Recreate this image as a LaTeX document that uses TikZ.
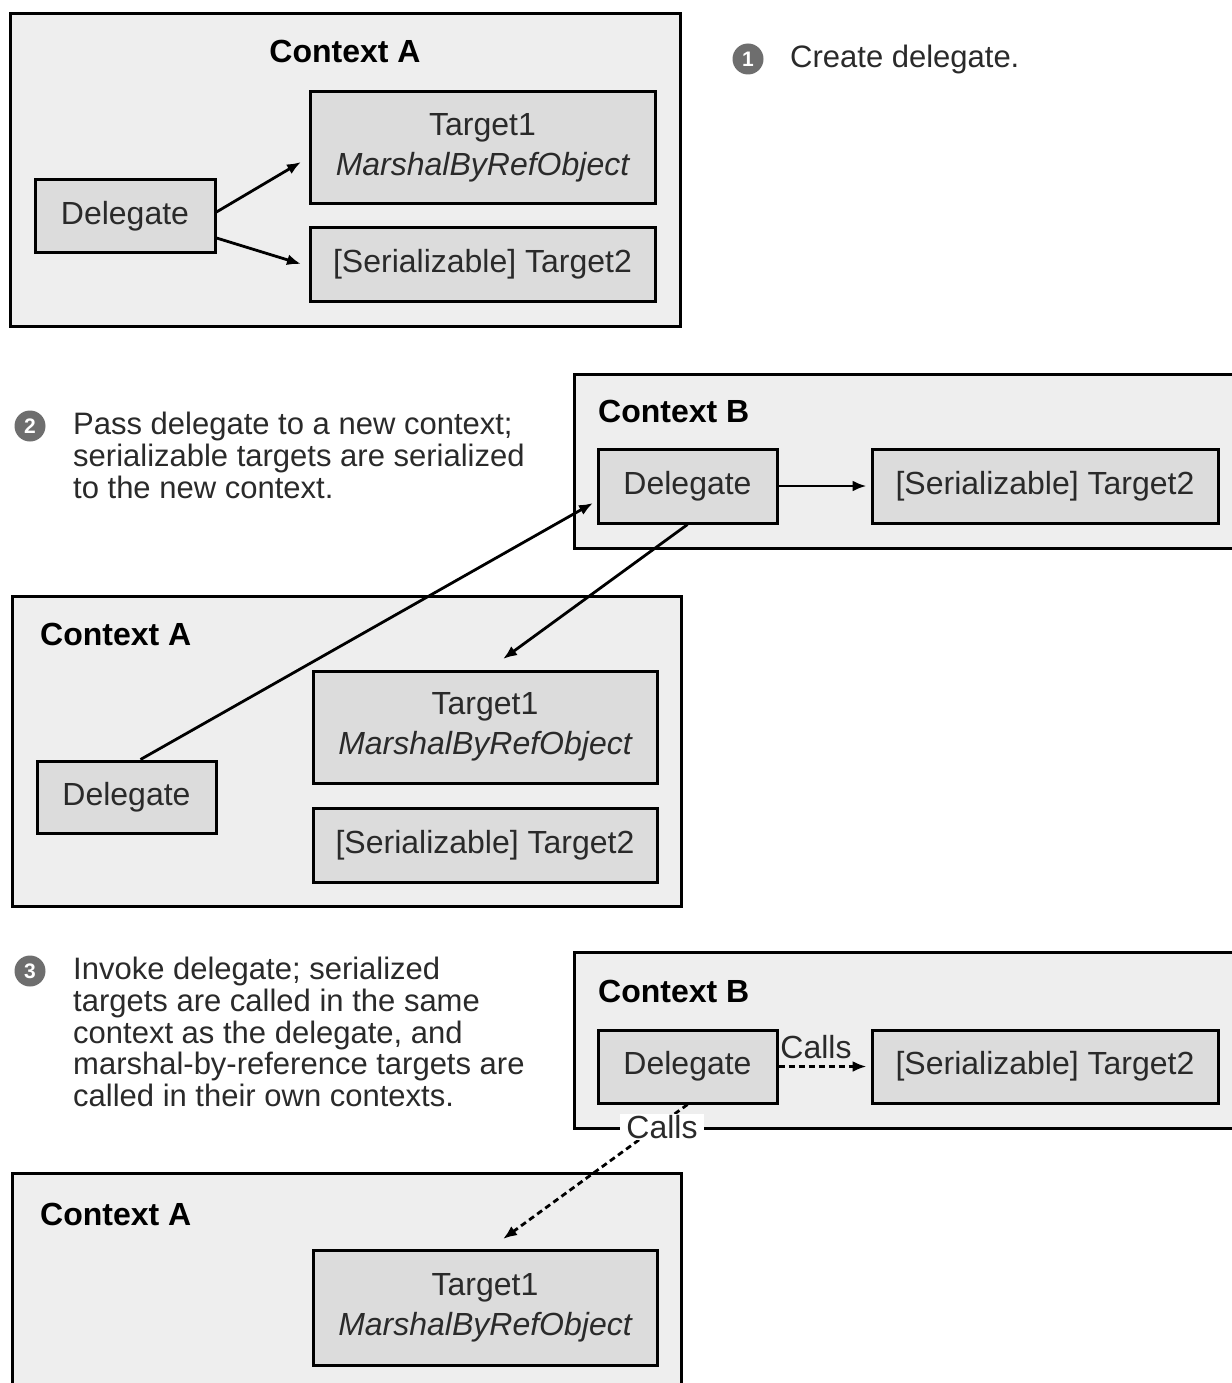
\documentclass[tikz,border=0pt]{standalone}
\usepackage{fontspec}
\setmainfont{Liberation Sans}
\usetikzlibrary{arrows.meta}
\definecolor{ctxfill}{HTML}{EEEEEE}
\definecolor{boxfill}{HTML}{DCDCDC}
\definecolor{txt}{HTML}{2A2A2A}
\definecolor{bulfill}{HTML}{6E6E6E}
\begin{document}
\begin{tikzpicture}[x=1pt,y=-1pt,
  ctx/.style={draw=black, line width=3pt, fill=ctxfill, rectangle, inner sep=0pt},
  obj/.style={draw=black, line width=3pt, fill=boxfill, rectangle, inner sep=0pt, align=center, font=\fontsize{32}{40}\selectfont, text=txt},
  ttl/.style={font=\fontsize{32}{34}\selectfont\bfseries, inner sep=0pt, text=black},
  conn/.style={line width=2.8pt, -{Latex[length=14pt,width=11pt]}},
  dconn/.style={conn, dash pattern=on 6pt off 4pt},
  bul/.style={circle, fill=bulfill, minimum size=31pt, inner sep=0pt, text=white, font=\fontsize{21}{21}\selectfont\bfseries},
  note/.style={anchor=north west, align=left, inner sep=0pt, font=\fontsize{31}{31.75}\selectfont, text=txt},
  lbl/.style={inner sep=1pt, font=\fontsize{32}{34}\selectfont, text=txt}]
\useasboundingbox (0,0) rectangle (1231,1383);
\fill[white] (0,0) rectangle (1231,1383);

% ---------- Panel 1 ----------
\node[ctx, minimum width=670pt, minimum height=312pt] (ctxA1) at (345,170) {};
\node[ttl] (ttlA1) at (345,51) {Context A};
\node[obj, minimum width=345pt, minimum height=111pt] (t1a1) at (482.5,147.5) {Target1\\\itshape MarshalByRefObject};
\node[obj, minimum width=345pt, minimum height=74pt] (t2a1) at (482.5,264) {[Serializable] Target2};
\node[obj, minimum width=180pt, minimum height=72pt] (da1) at (125,216) {Delegate};
\coordinate (e1) at (301,162);
\coordinate (e2) at (301,264);
\draw[conn] (da1.east) ++(0,-4) -- (e1);
\draw[conn] (da1.east) ++(0,22) -- (e2);
\node[bul] (b1) at (748,59) {1};
\node[note, anchor=west] (n1) at (790,59) {Create delegate.};

% ---------- Panel 2 ----------
\node[ctx, minimum width=668pt, minimum height=174pt] (ctxB2) at (908,461) {};
\node[ttl, anchor=west] (ttlB2) at (598,411) {Context B};
\node[obj, minimum width=179pt, minimum height=74pt] (db2) at (687.5,486) {Delegate};
\node[obj, minimum width=346pt, minimum height=74pt] (t2b2) at (1045,486) {[Serializable] Target2};
\draw[conn] (db2.east) -- ([xshift=-4pt]t2b2.west);
\node[bul] (b2) at (30,426) {2};
\node[note] (n2) at (73,412) {Pass delegate to a new context;\\serializable targets are serialized\\to the new context.};

\node[ctx, minimum width=669pt, minimum height=310pt] (ctxA2) at (346.5,751) {};
\node[ttl, anchor=west] (ttlA2) at (40,634) {Context A};
\node[obj, minimum width=344pt, minimum height=112pt] (t1a2) at (485,727) {Target1\\\itshape MarshalByRefObject};
\node[obj, minimum width=344pt, minimum height=74pt] (t2a2) at (485,845) {[Serializable] Target2};
\node[obj, minimum width=179pt, minimum height=72pt] (da2) at (126.5,797) {Delegate};
\coordinate (e3) at (593,503);
\coordinate (e4) at (503,659);
\draw[conn] ([xshift=14pt]da2.north) -- (e3);
\draw[conn] (db2.south) -- (e4);

% ---------- Panel 3 ----------
\node[ctx, minimum width=668pt, minimum height=176pt] (ctxB3) at (908,1040) {};
\node[ttl, anchor=west] (ttlB3) at (598,991) {Context B};
\node[obj, minimum width=179pt, minimum height=73pt] (db3) at (687.5,1066.5) {Delegate};
\node[obj, minimum width=346pt, minimum height=73pt] (t2b3) at (1045,1066.5) {[Serializable] Target2};
\draw[dconn] (db3.east) -- ([xshift=-4pt]t2b3.west);
\node[lbl] (c1) at (816,1047) {Calls};
\node[bul] (b3) at (30,971) {3};
\node[note] (n3) at (73,957) {Invoke delegate; serialized\\targets are called in the same\\context as the delegate, and\\marshal-by-reference targets are\\called in their own contexts.};

\node[ctx, minimum width=669pt, minimum height=240pt] (ctxA3) at (346.5,1293) {};
\node[ttl, anchor=west] (ttlA3) at (40,1214) {Context A};
\node[obj, minimum width=344pt, minimum height=115pt] (t1a3) at (485,1307.5) {Target1\\\itshape MarshalByRefObject};
\coordinate (e5) at (503,1239);
\draw[dconn] (db3.south) -- (e5);
\node[lbl, fill=white, inner xsep=6pt] (c2) at (662,1127) {Calls};
\end{tikzpicture}
\end{document}
